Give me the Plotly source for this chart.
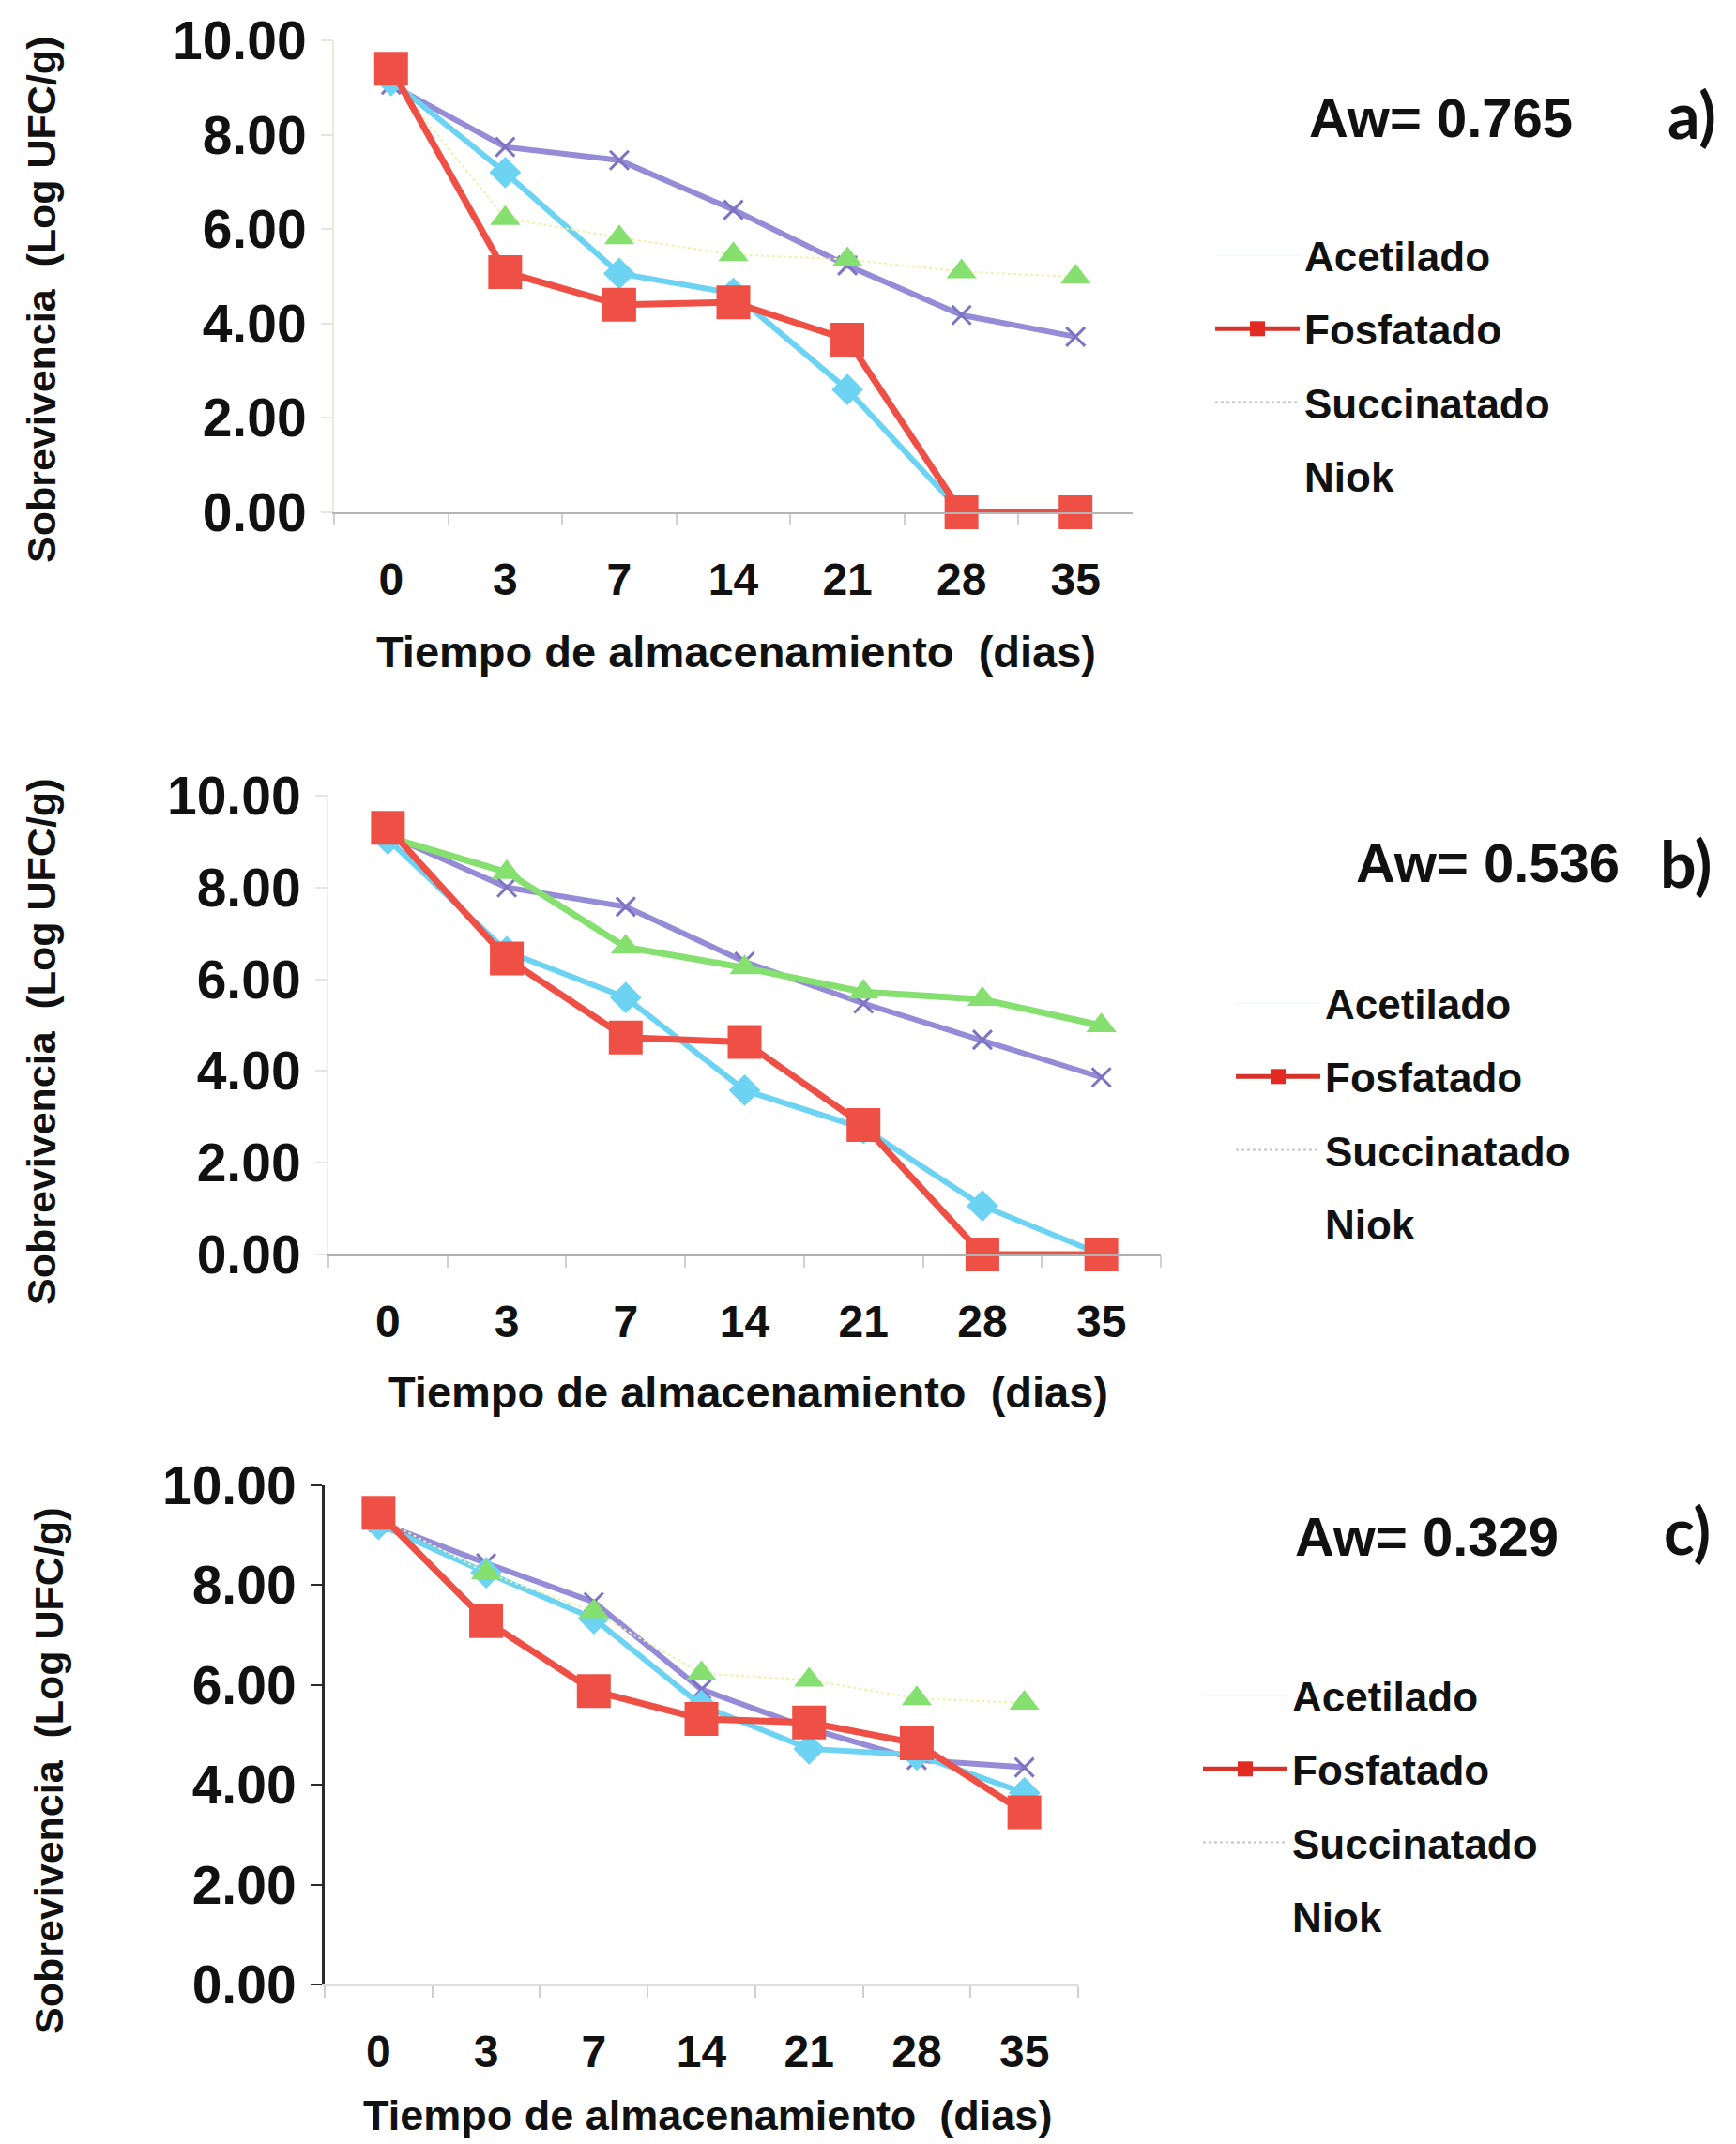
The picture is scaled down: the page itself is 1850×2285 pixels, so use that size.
import plotly.graph_objects as go

# ---------------- data ----------------
days = ["0", "3", "7", "14", "21", "28", "35"]
y_ticks = [0, 2, 4, 6, 8, 10]
series_names = ["Acetilado", "Fosfatado", "Succinatado", "Niok"]
panel_aw = ["Aw= 0.765", "Aw= 0.536", "Aw= 0.329"]
panel_tags = ["a)", "b)", "c)"]

a_acetilado = [9.15, 7.20, 5.06, 4.64, 2.60, 0.00, 0.00]
a_fosfatado = [9.40, 5.09, 4.40, 4.45, 3.66, 0.00, 0.00]
a_succinatado = [9.06, 7.74, 7.46, 6.41, 5.23, 4.18, 3.72]
a_niok = [9.20, 6.23, 5.82, 5.46, 5.36, 5.10, 4.99]

b_acetilado = [9.05, 6.60, 5.60, 3.58, 2.75, 1.06, 0.00]
b_fosfatado = [9.30, 6.45, 4.73, 4.63, 2.82, 0.00, 0.00]
b_succinatado = [9.15, 8.00, 7.58, 6.38, 5.47, 4.68, 3.86]
b_niok = [9.10, 8.33, 6.70, 6.25, 5.72, 5.56, 4.99]

c_acetilado = [9.22, 8.25, 7.33, 5.59, 4.72, 4.60, 3.84]
c_fosfatado = [9.45, 7.28, 5.88, 5.32, 5.25, 4.83, 3.45]
c_succinatado = [9.26, 8.44, 7.66, 5.91, 5.13, 4.50, 4.35]
c_niok = [9.36, 8.25, 7.47, 6.23, 6.10, 5.73, 5.64]

panels = [
    dict(acet=a_acetilado, fosf=a_fosfatado, succ=a_succinatado, niok=a_niok),
    dict(acet=b_acetilado, fosf=b_fosfatado, succ=b_succinatado, niok=b_niok),
    dict(acet=c_acetilado, fosf=c_fosfatado, succ=c_succinatado, niok=c_niok),
]

# ---------------- layout helpers (pixels) ----------------
W, H = 1850, 2285
def px(x):
    return x / W
def py(y):
    return 1 - y / H

# plot boxes: left, right, top(y=10), bottom(y=0)
boxes = [
    (356, 1207, 43, 546),
    (350, 1237, 848, 1337),
    (346, 1149, 1583, 2115),
]
ytitle_pos = [(44, 320), (44, 1111), (52, 1888)]
xtitle_pos = [(784, 694), (797, 1483), (754, 2254)]
xtitle_size = [47, 47, 45]
aw_pos = [(1393, 126), (1443, 919), (1378, 1637)]
tag_pos = [(1775, 122), (1767, 919), (1771, 1630)]
legend_text_x = [1392, 1414, 1379]
legend_first_y = [273, 1070, 1808]

yaxis_line = ["#e9e9dc", "#efefe6", "#2a2a2a"]
yaxis_width = [2, 2, 3]
xaxis_line = ["#b4b4b4", "#b0b0b0", "#dedede"]

FONT = "Liberation Sans, Arial, sans-serif"

RED = "#ef5046"
CYAN = "#6cd3f2"
PURPLE = "#958bd6"
GREEN = "#86e070"

fig = go.Figure()

for i, p in enumerate(panels):
    k = "" if i == 0 else str(i + 1)
    xa, ya = "x" + k, "y" + k
    leg = "legend" + k
    niok_line = dict(color=GREEN, width=7) if i == 1 else dict(color="#eef0a8", width=2, dash="dot")
    # Succinatado
    fig.add_trace(go.Scatter(
        x=days, y=p["succ"], xaxis=xa, yaxis=ya, mode="lines+markers",
        line=dict(color=PURPLE, width=6),
        marker=dict(symbol="x-thin", size=20, color="#6f66b0", line=dict(width=3, color="#7d74c4")),
        showlegend=False, cliponaxis=False))
    # Acetilado
    fig.add_trace(go.Scatter(
        x=days, y=p["acet"], xaxis=xa, yaxis=ya, mode="lines+markers",
        line=dict(color=CYAN, width=6),
        marker=dict(symbol="diamond", size=26, color=CYAN),
        showlegend=False, cliponaxis=False))
    # Niok
    fig.add_trace(go.Scatter(
        x=days, y=p["niok"], xaxis=xa, yaxis=ya, mode="lines+markers",
        line=niok_line,
        marker=dict(symbol="triangle-up", size=28, color=GREEN),
        showlegend=False, cliponaxis=False))
    # Fosfatado
    fig.add_trace(go.Scatter(
        x=days, y=p["fosf"], xaxis=xa, yaxis=ya, mode="lines+markers",
        line=dict(color=RED, width=7),
        marker=dict(symbol="square", size=36, color=RED),
        showlegend=False, cliponaxis=False))

    # legend-only entries (as they appear in the original legend)
    leg_styles = [
        dict(mode="lines", line=dict(color="rgba(230,240,245,0.4)", width=2)),
        dict(mode="lines+markers", line=dict(color="#d8332a", width=5),
             marker=dict(symbol="square", size=16, color="#e02a22")),
        dict(mode="lines", line=dict(color="#c4c4c4", width=2, dash="dot")),
        dict(mode="lines", line=dict(color="rgba(255,255,255,0)", width=1)),
    ]
    for j, name in enumerate(series_names):
        fig.add_trace(go.Scatter(
            x=[None], y=[None], xaxis=xa, yaxis=ya, name=name, legend=leg,
            legendgroup=f"g{i}{j}", showlegend=True, **leg_styles[j]))

    L, R, T, B = boxes[i]
    fig.update_layout(**{
        "xaxis" + k: dict(
            domain=[px(L), px(R)], anchor=ya, type="category", automargin=False,
            range=[-0.5, 6.5], showline=True, linecolor=xaxis_line[i], linewidth=2,
            ticks="outside", tickson="boundaries", ticklen=12, tickcolor="#d0d0d0", tickwidth=2,
            showgrid=False, zeroline=False,
            tickfont=dict(family=FONT, size=48, color="#111", weight="bold"),
            ticklabelstandoff=28,
        ),
        "yaxis" + k: dict(
            domain=[py(B), py(T)], anchor=xa, range=[0, 10], automargin=False,
            tickvals=y_ticks, tickformat=".2f",
            showline=True, linecolor=yaxis_line[i], linewidth=yaxis_width[i],
            ticks="outside", ticklen=12, tickcolor=yaxis_line[i] if i == 2 else "#e4e4e4", tickwidth=2,
            showgrid=False, zeroline=False,
            tickfont=dict(family=FONT, size=57, color="#111", weight="bold"),
            ticklabelstandoff=4,
        ),
        leg: dict(
            x=px(legend_text_x[i] - 102), xanchor="left",
            y=py(legend_first_y[i] - 36), yanchor="top",
            font=dict(family=FONT, size=44, color="#111", weight="bold"),
            bgcolor="rgba(0,0,0,0)", borderwidth=0,
            itemwidth=90, itemsizing="trace", traceorder="grouped",
            tracegroupgap=18,
        ),
    })

    # axis titles and labels
    yx, yy = ytitle_pos[i]
    fig.add_annotation(text="Sobrevivencia  (Log UFC/g)", x=px(yx), y=py(yy), xref="paper", yref="paper",
                       showarrow=False, textangle=-90, xanchor="center", yanchor="middle",
                       font=dict(family=FONT, size=43, color="#111", weight="bold"))
    tx, ty = xtitle_pos[i]
    fig.add_annotation(text="Tiempo de almacenamiento  (dias)", x=px(tx), y=py(ty), xref="paper", yref="paper",
                       showarrow=False, xanchor="center", yanchor="middle",
                       font=dict(family=FONT, size=xtitle_size[i], color="#111", weight="bold"))
    ax, ay = aw_pos[i]
    fig.add_annotation(text=panel_aw[i], x=px(ax), y=py(ay), xref="paper", yref="paper",
                       showarrow=False, xanchor="left", yanchor="middle",
                       font=dict(family=FONT, size=58, color="#111", weight="bold"))
    gx, gy = tag_pos[i]
    fig.add_annotation(text=panel_tags[i], x=px(gx), y=py(gy), xref="paper", yref="paper",
                       showarrow=False, xanchor="left", yanchor="middle",
                       font=dict(family="Lato, Open Sans, sans-serif", size=68, color="#111", weight="bold"))

fig.update_layout(
    width=W, height=H, margin=dict(l=0, r=0, t=0, b=0),
    paper_bgcolor="white", plot_bgcolor="white",
)

fig.write_html("out.html")
